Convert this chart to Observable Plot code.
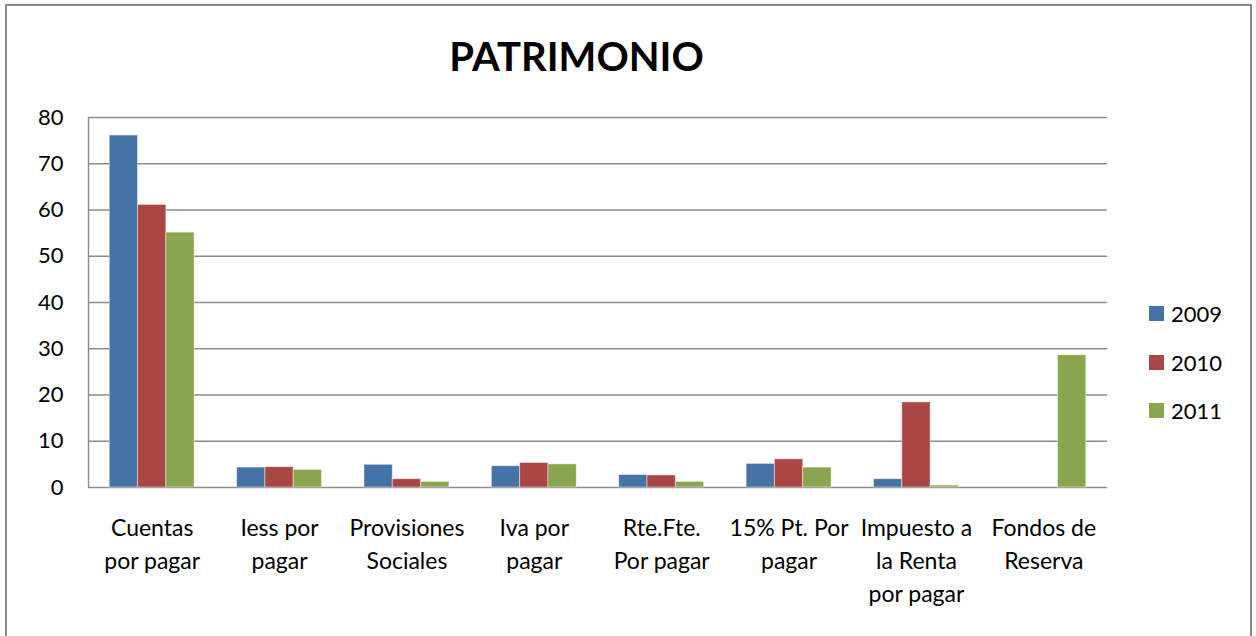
<!DOCTYPE html>
<html>
<head>
<meta charset="utf-8">
<script src="https://cdn.jsdelivr.net/npm/d3@7"></script>
<script src="https://cdn.jsdelivr.net/npm/@observablehq/plot@0.6"></script>
<style>
  html, body { margin: 0; padding: 0; background: #fff; }
  #wrap { position: relative; width: 1256px; height: 636px; overflow: hidden; font-family: Lato, "Open Sans", sans-serif; }
  #border { position: absolute; left: 5px; top: 4px; width: 1243px; height: 660px; border: 2px solid #8a8a8a; box-sizing: content-box; }
  #wrap svg { position: absolute; left: 0; top: 0; }
  #title { position: absolute; left: 0; width: 1153px; top: 36px; text-align: center; font-weight: bold; font-size: 40px; line-height: 40px; color: #000; }
  #legend { position: absolute; left: 1149px; top: 0; }
  .lg { position: absolute; left: 0; display: flex; align-items: center; height: 24px; font-size: 22px; white-space: nowrap; }
  .sw { width: 15px; height: 15px; margin-right: 7px; }
</style>
</head>
<body>
<div id="wrap">
  <div id="border"></div>
  <div id="title">PATRIMONIO</div>
  <div id="legend"></div>
</div>
<script>
const categories = ["Cuentas por pagar", "Iess por pagar", "Provisiones Sociales", "Iva por pagar", "Rte.Fte. Por pagar", "15% Pt. Por pagar", "Impuesto a la Renta por pagar", "Fondos de Reserva"];
const categoryLabels = ["Cuentas\npor pagar", "Iess por\npagar", "Provisiones\nSociales", "Iva por\npagar", "Rte.Fte.\nPor pagar", "15% Pt. Por\npagar", "Impuesto a\nla Renta\npor pagar", "Fondos de\nReserva"];
const years = ["2009", "2010", "2011"];
const values2009 = [76.1, 4.3, 4.9, 4.6, 2.7, 5.1, 1.8, 0];
const values2010 = [61.1, 4.4, 1.8, 5.3, 2.6, 6.1, 18.4, 0];
const values2011 = [55.1, 3.8, 1.2, 5.0, 1.2, 4.3, 0.4, 28.6];
const colors = ["#4572A7", "#AA4643", "#89A54E"];
const yTicks = [0, 10, 20, 30, 40, 50, 60, 70, 80];

const series = [values2009, values2010, values2011];
const data = [];
categories.forEach((c, i) => years.forEach((y, j) => data.push({category: c, year: y, value: series[j][i]})));

const W = 1256, H = 636, ML = 88, MR = 149, MT = 117, MB = 149;
const n = categories.length;
const font = {fontFamily: "Lato, 'Open Sans', sans-serif", fontSize: "22px", background: "transparent", color: "#000", overflow: "visible"};

// background: grid, axis frame line, y axis and category labels
const bg = Plot.plot({
  width: W, height: H,
  marginLeft: ML, marginRight: MR, marginTop: MT, marginBottom: MB,
  style: font,
  x: {domain: [0, n], axis: null},
  y: {domain: [0, 80], axis: null},
  marks: [
    Plot.ruleY(yTicks, {stroke: "#8c8c8c", strokeWidth: 1.4}),
    Plot.ruleX([0], {stroke: "#8c8c8c", strokeWidth: 1.4}),
    Plot.axisY(yTicks, {tickSize: 0, tickPadding: 25, fontSize: 22, tickFormat: d => String(d)}),
    Plot.axisX(d3.range(n).map(i => i + 0.5), {tickSize: 0, tickPadding: 25, fontSize: 23, lineHeight: 1.43, tickFormat: d => categoryLabels[Math.floor(d)]})
  ]
});

// foreground: grouped bars
const fg = Plot.plot({
  width: W, height: H,
  marginLeft: ML, marginRight: MR, marginTop: MT, marginBottom: MB,
  style: font,
  fx: {domain: categories, paddingInner: 1 / 3, paddingOuter: 1 / 6, round: false, axis: null},
  x: {domain: years, padding: 0, round: false, axis: null},
  y: {domain: [0, 80], axis: null},
  color: {domain: years, range: colors},
  marks: [
    Plot.barY(data.filter(d => d.value > 0), {fx: "category", x: "year", y: "value", fill: "year", stroke: "#ffffff", strokeOpacity: 0.45, strokeWidth: 1})
  ]
});

const wrap = document.getElementById("wrap");
wrap.insertBefore(bg, document.getElementById("title"));
wrap.insertBefore(fg, document.getElementById("title"));

const legend = document.getElementById("legend");
const rowCenters = [313, 362, 410];
years.forEach((y, i) => {
  const row = document.createElement("div");
  row.className = "lg";
  row.style.top = (rowCenters[i] - 12) + "px";
  const sw = document.createElement("div");
  sw.className = "sw";
  sw.style.background = colors[i];
  const t = document.createElement("span");
  t.textContent = y;
  row.appendChild(sw); row.appendChild(t);
  legend.appendChild(row);
});
</script>
</body>
</html>
